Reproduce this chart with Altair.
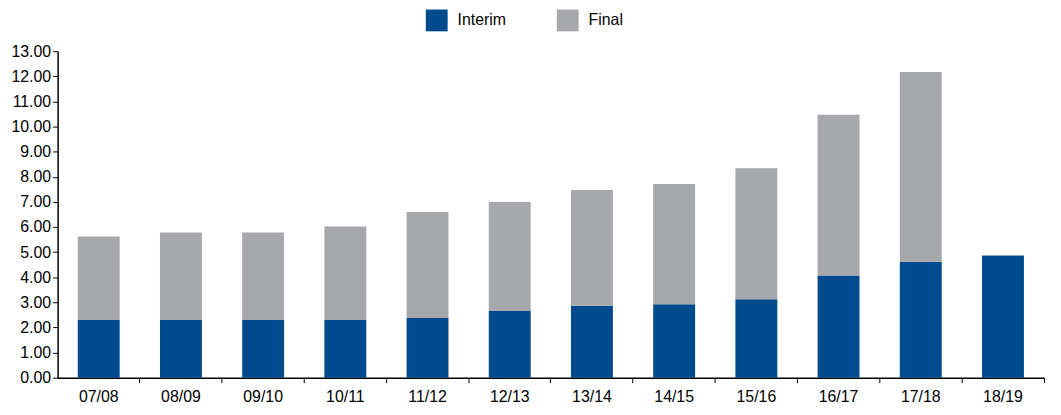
import altair as alt
import pandas as pd

years = ["07/08", "08/09", "09/10", "10/11", "11/12", "12/13",
         "13/14", "14/15", "15/16", "16/17", "17/18", "18/19"]
interim = [2.30, 2.30, 2.30, 2.30, 2.38, 2.66, 2.86, 2.92, 3.12, 4.07, 4.62, 4.87]
final = [3.32, 3.48, 3.48, 3.72, 4.22, 4.34, 4.61, 4.79, 5.22, 6.40, 7.55, 0.02]
series = ["Interim", "Final"]
colors = ["#004B8D", "#A7A8AC"]
y_ticks = list(range(0, 14))

rows = []
for i, yr in enumerate(years):
    rows.append({"year": yr, "series": "Interim", "value": interim[i], "ord": 0})
    rows.append({"year": yr, "series": "Final", "value": final[i], "ord": 1})
df = pd.DataFrame(rows)

FONT = "Liberation Sans Narrow, Arial Narrow, Liberation Sans, Arial"
FS = 16

chart = alt.Chart(df).mark_bar(width={"band": 0.51}).encode(
    x=alt.X("year:N", sort=years, title=None,
            scale=alt.Scale(paddingInner=0, paddingOuter=0),
            axis=alt.Axis(labelAngle=0, bandPosition=1, tickSize=5,
                          domainColor="#000000", tickColor="#000000",
                          labelColor="#000000", labelFontSize=FS,
                          labelFont=FONT, labelPadding=6)),
    y=alt.Y("value:Q", stack="zero", title=None,
            scale=alt.Scale(domain=[0, 13], nice=False),
            axis=alt.Axis(values=y_ticks, format=".2f", tickSize=5, grid=False,
                          domainColor="#000000", tickColor="#000000",
                          labelColor="#000000", labelFontSize=FS,
                          labelFont=FONT, labelPadding=2)),
    color=alt.Color("series:N", scale=alt.Scale(domain=series, range=colors),
                    legend=alt.Legend(title=None, orient="none", direction="horizontal",
                                      legendX=371, legendY=-42,
                                      symbolType="square", symbolSize=484,
                                      symbolStrokeWidth=0, symbolOpacity=1,
                                      labelFontSize=FS, labelFont=FONT,
                                      labelColor="#000000", labelOffset=10,
                                      columnPadding=51, padding=0)),
    order=alt.Order("ord:Q"),
).properties(
    width=994, height=329,
    autosize=alt.AutoSizeParams(type="none"),
    padding={"left": 50, "top": 42, "right": 9, "bottom": 28},
).configure_view(stroke=None).configure_axis(domainWidth=1.5)

chart.save("out.html", embed_options={"renderer": "svg", "actions": False})
